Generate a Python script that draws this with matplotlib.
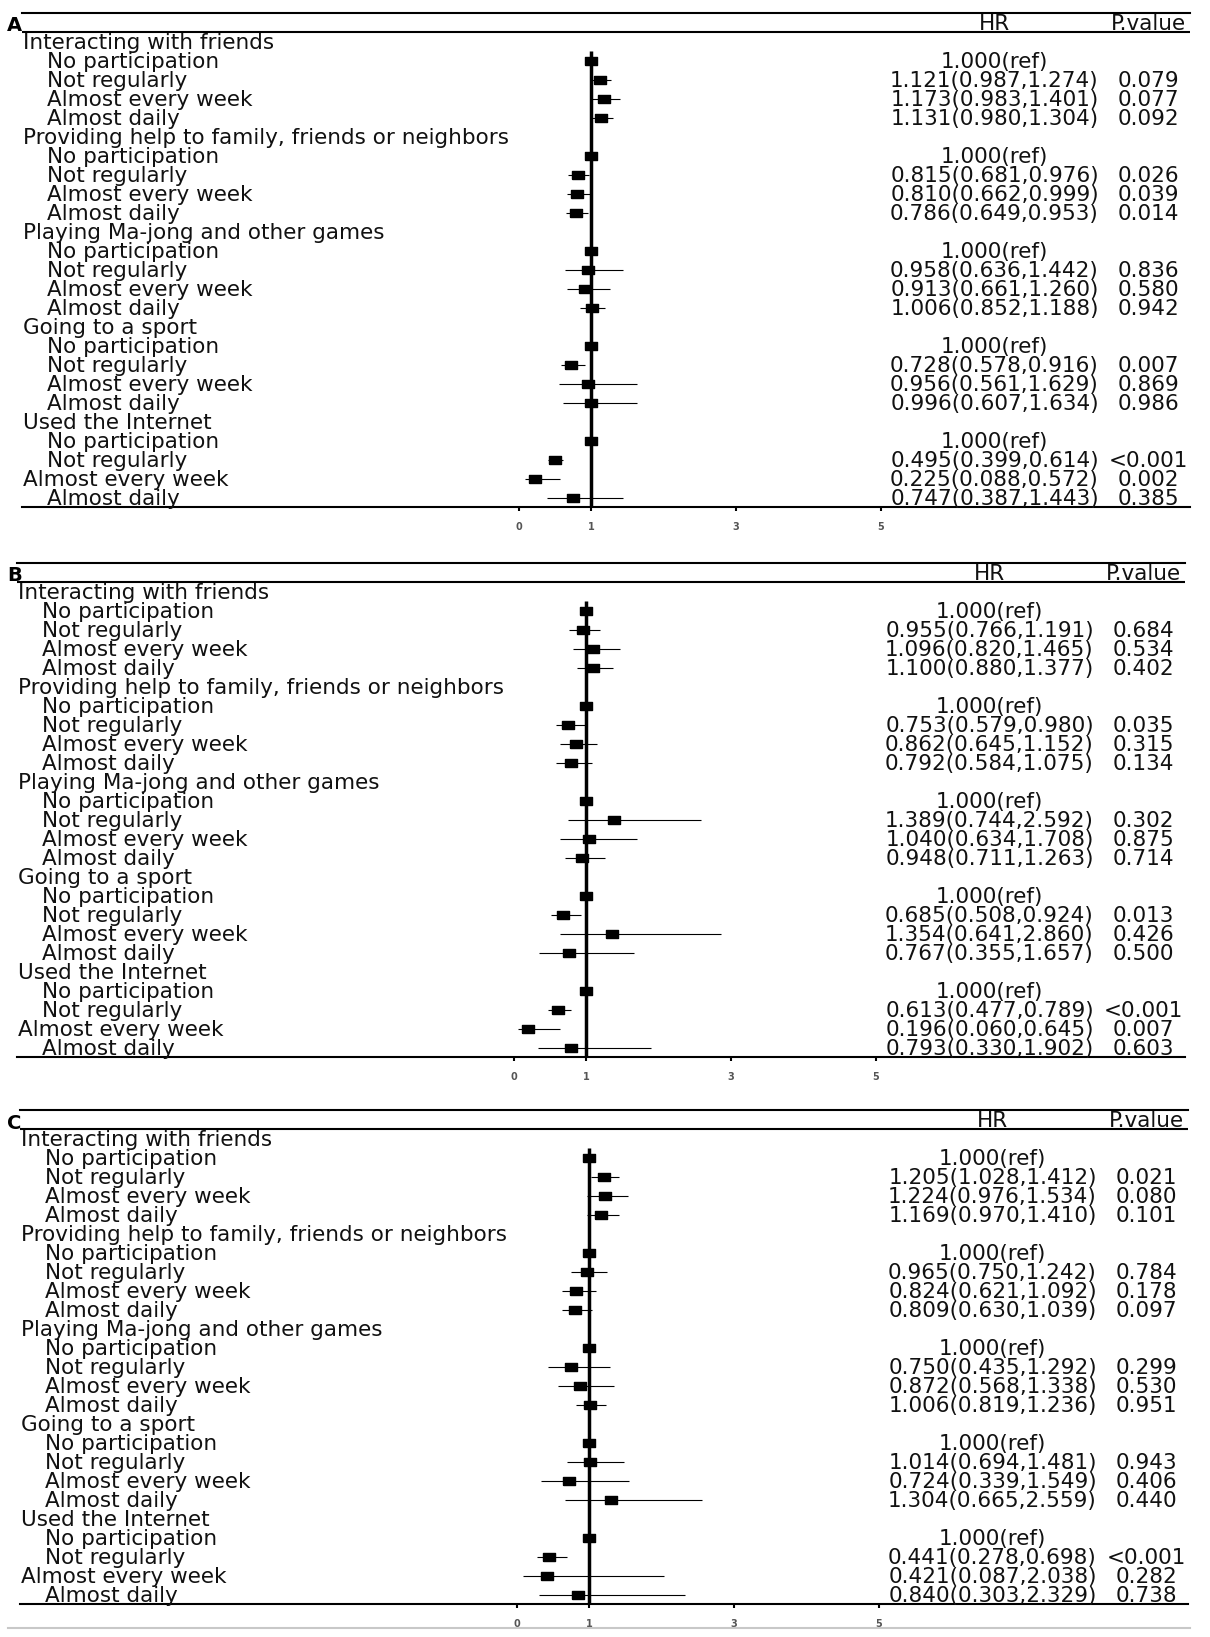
import matplotlib.pyplot as plt
from matplotlib.lines import Line2D

plt.rcParams['font.family'] = 'DejaVu Sans'

categories = ["Interacting with friends",
              "Providing help to family, friends or neighbors",
              "Playing Ma-jong and other games",
              "Going to a sport",
              "Used the Internet"]
levels = ["No participation", "Not regularly", "Almost every week", "Almost daily"]

# panel A
hr_a = [1.000, 1.121, 1.173, 1.131, 1.000, 0.815, 0.810, 0.786, 1.000, 0.958,
        0.913, 1.006, 1.000, 0.728, 0.956, 0.996, 1.000, 0.495, 0.225, 0.747]
lo_a = [1.000, 0.987, 0.983, 0.980, 1.000, 0.681, 0.662, 0.649, 1.000, 0.636,
        0.661, 0.852, 1.000, 0.578, 0.561, 0.607, 1.000, 0.399, 0.088, 0.387]
hi_a = [1.000, 1.274, 1.401, 1.304, 1.000, 0.976, 0.999, 0.953, 1.000, 1.442,
        1.260, 1.188, 1.000, 0.916, 1.629, 1.634, 1.000, 0.614, 0.572, 1.443]
p_a = ["", "0.079", "0.077", "0.092", "", "0.026", "0.039", "0.014", "", "0.836",
       "0.580", "0.942", "", "0.007", "0.869", "0.986", "", "<0.001", "0.002", "0.385"]

# panel B
hr_b = [1.000, 0.955, 1.096, 1.100, 1.000, 0.753, 0.862, 0.792, 1.000, 1.389,
        1.040, 0.948, 1.000, 0.685, 1.354, 0.767, 1.000, 0.613, 0.196, 0.793]
lo_b = [1.000, 0.766, 0.820, 0.880, 1.000, 0.579, 0.645, 0.584, 1.000, 0.744,
        0.634, 0.711, 1.000, 0.508, 0.641, 0.355, 1.000, 0.477, 0.060, 0.330]
hi_b = [1.000, 1.191, 1.465, 1.377, 1.000, 0.980, 1.152, 1.075, 1.000, 2.592,
        1.708, 1.263, 1.000, 0.924, 2.860, 1.657, 1.000, 0.789, 0.645, 1.902]
p_b = ["", "0.684", "0.534", "0.402", "", "0.035", "0.315", "0.134", "", "0.302",
       "0.875", "0.714", "", "0.013", "0.426", "0.500", "", "<0.001", "0.007", "0.603"]

# panel C
hr_c = [1.000, 1.205, 1.224, 1.169, 1.000, 0.965, 0.824, 0.809, 1.000, 0.750,
        0.872, 1.006, 1.000, 1.014, 0.724, 1.304, 1.000, 0.441, 0.421, 0.840]
lo_c = [1.000, 1.028, 0.976, 0.970, 1.000, 0.750, 0.621, 0.630, 1.000, 0.435,
        0.568, 0.819, 1.000, 0.694, 0.339, 0.665, 1.000, 0.278, 0.087, 0.303]
hi_c = [1.000, 1.412, 1.534, 1.410, 1.000, 1.242, 1.092, 1.039, 1.000, 1.292,
        1.338, 1.236, 1.000, 1.481, 1.549, 2.559, 1.000, 0.698, 2.038, 2.329]
p_c = ["", "0.021", "0.080", "0.101", "", "0.784", "0.178", "0.097", "", "0.299",
       "0.530", "0.951", "", "0.943", "0.406", "0.440", "", "<0.001", "0.282", "0.738"]

panels = [("A", hr_a, lo_a, hi_a, p_a),
          ("B", hr_b, lo_b, hi_b, p_b),
          ("C", hr_c, lo_c, hi_c, p_c)]

W, H = 1210, 1637
fig = plt.figure(figsize=(W / 100, H / 100), dpi=100)

# left, top, right of each panel in pixels
frames = [(22, 13, 1190), (17, 563, 1185), (20, 1110, 1188)]
panel_h = 494
letter_base = [31, 581, 1129]

fs = 15.5
ink = '#111111'
box = [(-1, -0.66), (1, -0.66), (1, 0.66), (-1, 0.66), (-1, -0.66)]
head_x, item_x, hr_x, p_x = -6.84, -6.51, 6.57, 8.69

for (letter, hr, lo, hi, p), (left, top, right), lb in zip(panels, frames, letter_base):
    ax = fig.add_axes([left / W, 1 - (top + panel_h) / H, (right - left) / W, panel_h / H])
    ax.set_xlim(-6.86, 9.27)
    ax.set_ylim(24.48, -1.5)

    rows = [5 * c + k + 1 for c in range(len(categories)) for k in range(len(levels))]

    ax.vlines(1, 0.5, 24.48, color='black', lw=2.5)
    ax.hlines(rows, lo, hi, color='black', lw=0.8)
    ax.plot(hr, rows, ls='none', marker=box, ms=8.5, color='black')
    ax.axhline(-0.5, color='black', lw=1.5)

    for c, cat in enumerate(categories):
        ax.text(head_x, 5 * c + 0.37, cat, fontsize=fs, color=ink, va='baseline')
        for k, lev in enumerate(levels):
            i = 4 * c + k
            r = 5 * c + k + 1
            x = head_x if (c == 4 and k == 2) else item_x
            ax.text(x, r + 0.37, lev, fontsize=fs, color=ink, va='baseline')
            if p[i] == "":
                label = f"{hr[i]:.3f}(ref)"
            else:
                label = f"{hr[i]:.3f}({lo[i]:.3f},{hi[i]:.3f})"
            ax.text(hr_x, r + 0.37, label, fontsize=fs, color=ink, va='baseline', ha='center')
            ax.text(p_x, r + 0.37, p[i], fontsize=fs, color=ink, va='baseline', ha='center')

    ax.text(hr_x, -0.58, "HR", fontsize=fs, color=ink, va='baseline', ha='center')
    ax.text(p_x, -0.58, "P.value", fontsize=fs, color=ink, va='baseline', ha='center')

    for s in ['left', 'right']:
        ax.spines[s].set_visible(False)
    for s in ['top', 'bottom']:
        ax.spines[s].set_linewidth(1.5)
    ax.set_xticks([0, 1, 3, 5])
    ax.set_yticks([])
    ax.tick_params(axis='x', direction='out', length=3, width=1.5, pad=8,
                   labelsize=7, labelcolor='#555555')
    for t in ax.get_xticklabels():
        t.set_fontweight('bold')
    ax.patch.set_visible(False)

    fig.text(7 / W, 1 - lb / H, letter, fontsize=14, fontweight='bold', va='baseline')

fig.add_artist(Line2D([8 / W, 1190 / W], [1 - 1628 / H] * 2, color='#c8c8c8', lw=1.5))

fig.savefig("out.png", dpi=100)
